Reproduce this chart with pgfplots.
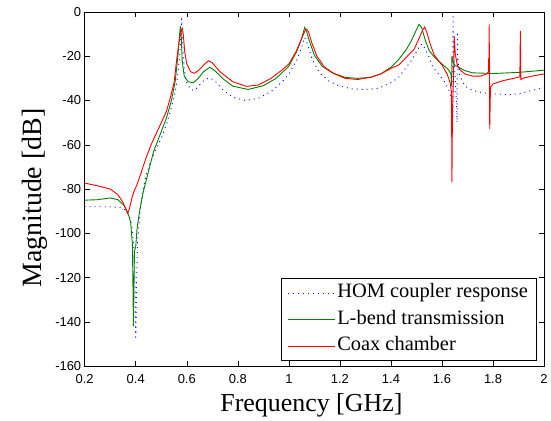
\documentclass[border=0pt]{standalone}
\usepackage{pgfplots}
\pgfplotsset{compat=1.18}
\usepackage{fontspec}
\setmainfont{Liberation Serif}
\newfontfamily\sansf{Liberation Sans}
\definecolor{mgreen}{rgb}{0,0.5,0}
\begin{document}
\begin{tikzpicture}
\begin{axis}[
  scale only axis,
  width=461pt, height=355.5pt,
  xmin=0.2, xmax=2, ymin=-160, ymax=0,
  xtick={0.2,0.4,0.6,0.8,1,1.2,1.4,1.6,1.8,2},
  xticklabels={0.2,0.4,0.6,0.8,1,1.2,1.4,1.6,1.8,2},
  ytick={-160,-140,-120,-100,-80,-60,-40,-20,0},
  yticklabels={-160,-140,-120,-100,-80,-60,-40,-20,0},
  tick align=inside,
  major tick length=5pt,
  tick style={black, line width=0.5pt},
  axis line style={black, line width=0.6pt},
  tick label style={font=\sansf\fontsize{13}{15}\selectfont},
  xticklabel style={yshift=-5pt},
  xlabel={Frequency [GHz]},
  ylabel={Magnitude [dB]},
  xlabel style={font=\fontsize{26}{30}\selectfont, at={([xshift=-3pt,yshift=-45.5pt]rel axis cs:0.5,0)}, anchor=base},
  ylabel style={font=\fontsize{28}{32}\selectfont, at={([xshift=-43pt,yshift=-9pt]rel axis cs:0,0.5)}, anchor=base},
  legend style={at={(rel axis cs:0.9826,0.0155)}, anchor=south east,
    font=\fontsize{20.5}{24}\selectfont, draw=black, line width=0.5pt,
    inner xsep=6pt, inner ysep=1pt, row sep=0pt,
    nodes={inner xsep=2pt, inner ysep=3.6pt, text height=14.5pt, text depth=5pt}},
  legend cell align=left,
  legend image code/.code={\draw[#1] (0pt,0pt) -- (47pt,0pt);},
]
\addplot[blue, line width=0.9pt, dash pattern=on 1pt off 4pt] coordinates {
(0.2,-88) (0.25,-88) (0.3,-88) (0.34,-88.3) (0.36,-89.5) (0.375,-92) (0.385,-97)
(0.392,-105) (0.397,-120) (0.400,-148) (0.403,-125) (0.407,-105) (0.415,-92)
(0.425,-82) (0.44,-74) (0.46,-67) (0.48,-62) (0.5,-57) (0.52,-51) (0.54,-43)
(0.555,-36) (0.565,-28) (0.572,-20) (0.577,-10) (0.58,-2) (0.583,-12) (0.59,-26)
(0.6,-32) (0.615,-35) (0.63,-35.5) (0.65,-33) (0.67,-30.5) (0.69,-29.8) (0.71,-31)
(0.74,-35) (0.78,-38.5) (0.83,-40) (0.88,-39) (0.93,-36) (0.97,-32) (1.0,-28)
(1.03,-22) (1.05,-16) (1.062,-11.5) (1.075,-15) (1.09,-21) (1.12,-27.5)
(1.16,-31.5) (1.2,-33.5) (1.25,-34.8) (1.3,-35) (1.35,-34.5) (1.4,-32) (1.43,-29.5)
(1.46,-25) (1.48,-22) (1.5,-18) (1.515,-15) (1.524,-14.5) (1.535,-17) (1.548,-20)
(1.56,-24) (1.575,-26.5) (1.593,-29) (1.61,-31.5) (1.626,-35) (1.636,-39)
(1.6425,-48) (1.643,0) (1.646,-20) (1.652,-30) (1.658,-45) (1.659,-50)
(1.660,-9) (1.663,-22) (1.67,-29) (1.69,-33.5) (1.72,-35.5) (1.76,-36.5)
(1.8,-37) (1.85,-37.3) (1.9,-37) (1.95,-35.5) (2.0,-34.2)
};
\addlegendentry{HOM coupler response}
\addplot[mgreen, line width=0.9pt] coordinates {
(0.2,-85) (0.25,-84.8) (0.3,-84) (0.33,-84.8) (0.355,-87.5) (0.37,-91) (0.38,-95)
(0.387,-105) (0.391,-142) (0.395,-108) (0.4,-106) (0.405,-98) (0.415,-90)
(0.43,-81) (0.45,-72) (0.47,-63) (0.5,-54) (0.52,-48) (0.54,-40) (0.555,-31)
(0.565,-20) (0.572,-10) (0.575,-6.4) (0.578,-10) (0.582,-22) (0.59,-29)
(0.605,-31.5) (0.625,-32) (0.645,-30) (0.665,-27) (0.69,-25) (0.71,-26.5)
(0.74,-30) (0.78,-33.5) (0.84,-35) (0.9,-33.3) (0.95,-30) (1.0,-24.5)
(1.03,-18) (1.05,-12) (1.062,-7) (1.07,-9) (1.08,-13) (1.1,-19.5) (1.13,-24.5)
(1.17,-27.5) (1.22,-29.5) (1.27,-30) (1.32,-29.5) (1.36,-28) (1.4,-25)
(1.43,-21.5) (1.46,-17) (1.48,-13) (1.5,-8) (1.51,-5.6) (1.52,-7) (1.535,-13)
(1.55,-17.5) (1.575,-21) (1.6,-23.5) (1.625,-26) (1.635,-28) (1.638,-33.5)
(1.639,-20) (1.642,-22) (1.65,-24) (1.665,-25) (1.69,-26.5) (1.72,-27.5)
(1.8,-27.8) (1.9,-27.3) (2.0,-26.3)
};
\addlegendentry{L-bend transmission}
\addplot[red, line width=0.9pt] coordinates {
(0.2,-77.3) (0.25,-78.5) (0.3,-80) (0.33,-82.5) (0.35,-86) (0.368,-91)
(0.375,-89) (0.385,-84) (0.395,-80.5) (0.405,-78) (0.42,-73) (0.44,-66)
(0.46,-60) (0.48,-55) (0.5,-50) (0.52,-45) (0.535,-39) (0.55,-32) (0.562,-20)
(0.572,-12) (0.58,-8) (0.583,-7.5) (0.586,-10) (0.592,-18) (0.6,-23.5)
(0.615,-27) (0.63,-27.7) (0.65,-26) (0.67,-23.5) (0.685,-22) (0.7,-23)
(0.73,-27) (0.78,-31.5) (0.833,-33.6) (0.88,-33) (0.93,-30) (0.97,-26.5)
(1.0,-23.5) (1.03,-17.5) (1.05,-12) (1.065,-8) (1.07,-7.8) (1.077,-9)
(1.09,-14) (1.11,-20) (1.14,-25) (1.18,-28) (1.22,-30) (1.27,-30.5)
(1.32,-29.5) (1.36,-28) (1.4,-25.5) (1.43,-24) (1.46,-20.5) (1.49,-17)
(1.51,-12) (1.525,-8) (1.532,-6.8) (1.54,-9) (1.555,-15) (1.57,-19.5)
(1.6,-24) (1.62,-28) (1.632,-32) (1.637,-36) (1.639,-77) (1.641,-45)
(1.645,-30) (1.648,-11) (1.652,-19) (1.66,-24) (1.67,-26) (1.69,-28)
(1.72,-29) (1.75,-29) (1.775,-28) (1.782,-27) (1.783,-21) (1.784,-27)
(1.785,-5.6) (1.787,-53) (1.79,-34) (1.8,-32.5) (1.84,-31) (1.88,-30)
(1.905,-29.3) (1.907,-8.6) (1.909,-30.5) (1.92,-29.8) (1.96,-28.8) (2.0,-28)
};
\addlegendentry{Coax chamber}
\end{axis}
\path (current axis.south west) ++(-85pt,-53.5pt) rectangle ++(551pt,421pt);
\end{tikzpicture}
\end{document}
